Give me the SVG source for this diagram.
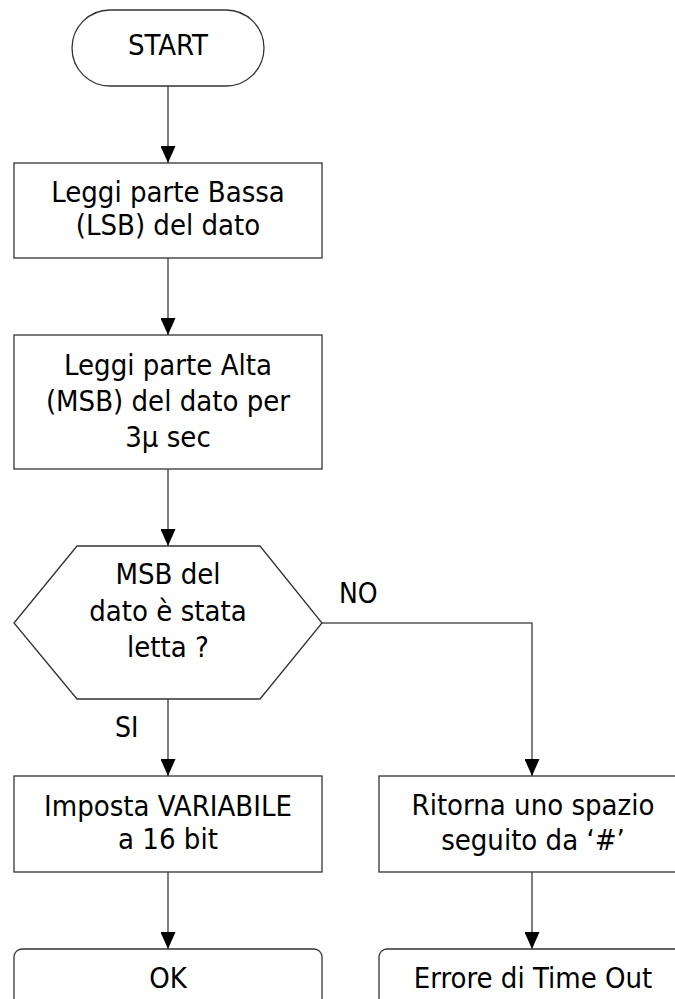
<svg xmlns="http://www.w3.org/2000/svg" width="675" height="999" viewBox="0 0 675 999">
<style>
.shape{fill:#ffffff;stroke:#333333;stroke-width:1.3}
.conn{fill:none;stroke:#555555;stroke-width:1.5}
.t{font-family:"DejaVu Sans Condensed","DejaVu Sans","Liberation Sans",sans-serif;font-stretch:condensed;font-size:29px;fill:#000000;text-anchor:middle}
.lbl{font-family:"DejaVu Sans Condensed","DejaVu Sans","Liberation Sans",sans-serif;font-stretch:condensed;font-size:28px;fill:#000000}
</style>
<defs>
<marker id="arr" markerWidth="17" markerHeight="15" refX="17" refY="7.5" orient="auto" markerUnits="userSpaceOnUse">
<path d="M0,0 L17,7.5 L0,15 Z" fill="#000000"/>
</marker>
</defs>
<rect width="675" height="999" fill="#ffffff"/>
<g id="connectors">
<line class="conn" x1="168" y1="86" x2="168" y2="163" marker-end="url(#arr)"/>
<line class="conn" x1="168" y1="258" x2="168" y2="335" marker-end="url(#arr)"/>
<line class="conn" x1="168" y1="469" x2="168" y2="546" marker-end="url(#arr)"/>
<line class="conn" x1="168" y1="699" x2="168" y2="776" marker-end="url(#arr)"/>
<polyline class="conn" points="322,623 532,623 532,776" marker-end="url(#arr)"/>
<line class="conn" x1="168" y1="872" x2="168" y2="949" marker-end="url(#arr)"/>
<line class="conn" x1="532" y1="872" x2="532" y2="949" marker-end="url(#arr)"/>
<text class="lbl" x="339" y="603">NO</text>
<text class="lbl" x="115" y="737">SI</text>
</g>
<g id="start">
<rect class="shape" x="72" y="10" width="192" height="76" rx="38" ry="38"/>
<text class="t" x="168" y="55">START</text>
</g>
<g id="leggi-lsb">
<rect class="shape" x="14" y="163" width="308" height="95"/>
<text class="t" x="168" y="202">Leggi parte Bassa</text>
<text class="t" x="168" y="235">(LSB) del dato</text>
</g>
<g id="leggi-msb">
<rect class="shape" x="14" y="335" width="308" height="134"/>
<text class="t" x="168" y="375">Leggi parte Alta</text>
<text class="t" x="168" y="411">(MSB) del dato per</text>
<text class="t" x="168" y="447">3μ sec</text>
</g>
<g id="decisione">
<polygon class="shape" points="14,623 77,546 260,546 322,623 260,699 77,699"/>
<text class="t" x="168" y="584">MSB del</text>
<text class="t" x="168" y="621">dato è stata</text>
<text class="t" x="168" y="657">letta ?</text>
</g>
<g id="imposta">
<rect class="shape" x="14" y="776" width="308" height="96"/>
<text class="t" x="168" y="816">Imposta VARIABILE</text>
<text class="t" x="168" y="849">a 16 bit</text>
</g>
<g id="ritorna">
<rect class="shape" x="379" y="776" width="308" height="96"/>
<text class="t" x="533" y="815">Ritorna uno spazio</text>
<text class="t" x="533" y="850">seguito da ‘#’</text>
</g>
<g id="ok">
<rect class="shape" x="14" y="949" width="308" height="80" rx="8" ry="8"/>
<text class="t" x="168" y="988">OK</text>
</g>
<g id="errore">
<rect class="shape" x="379" y="949" width="308" height="80" rx="8" ry="8"/>
<text class="t" x="533" y="988">Errore di Time Out</text>
</g>
</svg>
